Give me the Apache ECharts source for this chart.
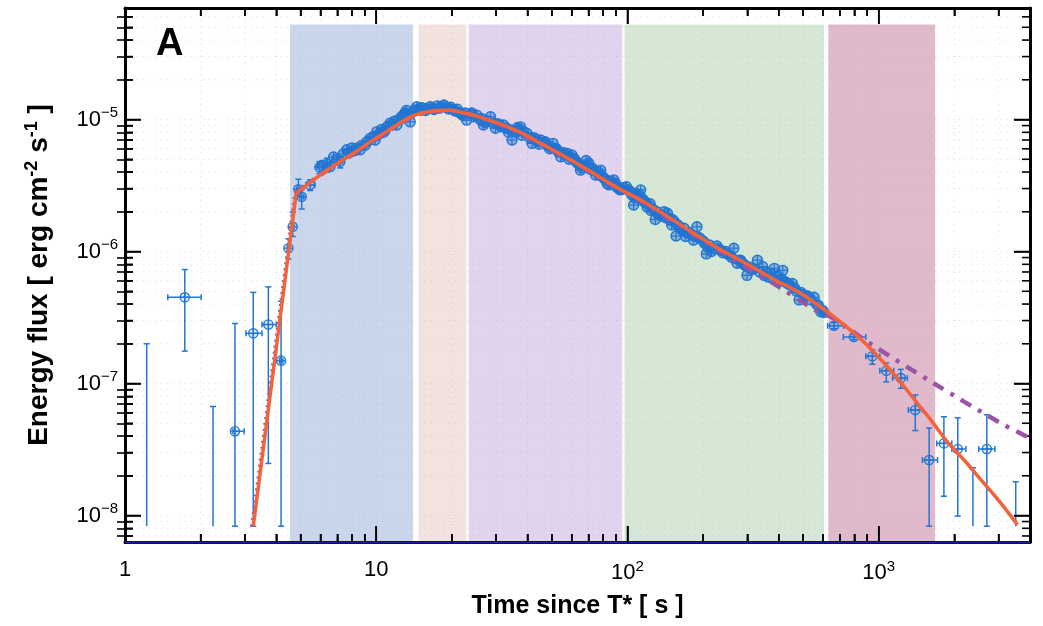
<!DOCTYPE html>
<html><head><meta charset="utf-8">
<script src="https://cdn.jsdelivr.net/npm/echarts@6/dist/echarts.min.js"></script>
<style>html,body{margin:0;padding:0;background:#fff}#c{width:1043px;height:626px}</style>
</head><body><div id="c"></div>
<script>
// ---------------- data ----------------
const X_MIN = 1, X_MAX = 4000;
const Y_MIN = 6.3e-9, Y_MAX = 7e-5;
const BAND_TOP = 5.25e-5;

const xLabelValues = [1, 10, 100, 1000];
const xLabelTexts  = ['1', '10', '10{sup|2}', '10{sup|3}'];
const yLabelValues = [1e-8, 1e-7, 1e-6, 1e-5];
const yLabelTexts  = ['10{sup|−8}', '10{sup|−7}', '10{sup|−6}', '10{sup|−5}'];

const xMajorTicks = [1, 10, 100, 1000];
const xMinorTicks = [2,3,4,5,6,7,8,9,20,30,40,50,60,70,80,90,200,300,400,500,600,700,800,900,2000,3000];
const yMajorTicks = [1e-8, 1e-7, 1e-6, 1e-5];
const yMinorTicks = [7e-9,8e-9,9e-9,2e-8,3e-8,4e-8,5e-8,6e-8,7e-8,8e-8,9e-8,2e-7,3e-7,4e-7,5e-7,6e-7,7e-7,8e-7,9e-7,
                     2e-6,3e-6,4e-6,5e-6,6e-6,7e-6,8e-6,9e-6,2e-5,3e-5,4e-5,5e-5,6e-5];

// shaded time intervals [start, end]
const bandStarts = [4.54, 14.74, 23.32, 97.3, 630];
const bandEnds   = [14.0, 22.84, 95.3, 605.5, 1676];

// points with error bars: [t, flux, tLow, tHigh, fluxLow, fluxHigh]
const errPoints = [
  [1.73, 4.5e-7, 1.48, 2.01, 1.76e-7, 7.3e-7],
  [2.74, 4.35e-8, 2.69, 2.98, 8.3e-9, 2.85e-7],
  [3.24, 2.4e-7, 3.03, 3.51, 8.3e-9, 4.9e-7],
  [3.72, 2.8e-7, 3.51, 4.0, 2.48e-8, 5.4e-7],
  [4.18, 1.49e-7, 4.12, 4.25, 8.3e-9, 4.2e-7],
  [4.47, 1.06e-6, 4.42, 4.52, 8.8e-7, 1.25e-6],
  [4.65, 1.54e-6, 4.6, 4.7, 1.3e-6, 1.99e-6],
  [4.90, 2.96e-6, 4.82, 4.98, 2.6e-6, 3.53e-6],
  [5.05, 2.6e-6, 4.97, 5.15, 2.1e-6, 2.95e-6],
  [5.46, 3.19e-6, 5.25, 5.7, 2.9e-6, 3.5e-6],
  [5.94, 4.35e-6, 5.8, 6.1, 3.9e-6, 4.8e-6],
  [6.36, 4.6e-6, 6.2, 6.5, 4.0e-6, 5.1e-6],
  [7.19, 4.79e-6, 7.05, 7.35, 4.3e-6, 5.3e-6],
  [664, 2.74e-7, 626, 726, 2.6e-7, 2.9e-7],
  [796, 2.25e-7, 723, 888, 2.15e-7, 2.35e-7],
  [943, 1.61e-7, 888, 1010, 1.4e-7, 1.8e-7],
  [1072, 1.25e-7, 1010, 1148, 1.03e-7, 1.43e-7],
  [1224, 1.1e-7, 1135, 1300, 9.2e-8, 1.28e-7],
  [1398, 6.3e-8, 1312, 1493, 4.4e-8, 8.2e-8],
  [1587, 2.63e-8, 1493, 1714, 8.3e-9, 4.6e-8],
  [1817, 3.52e-8, 1702, 1954, 1.4e-8, 5.6e-8],
  [2063, 3.19e-8, 1954, 2222, 9.9e-9, 5.5e-8],
  [2693, 3.19e-8, 2502, 2899, 8.3e-9, 5.8e-8]
];

// flux intervals without a measured point: [t, fluxLow, fluxHigh]
const limitBars = [
  [1.22, 8.3e-9, 2.0e-7],
  [2.24, 8.3e-9, 6.7e-8],
  [2371, 8.3e-9, 2.3e-8],
  [3510, 8.3e-9, 1.8e-8]
];

// dense light-curve points: [t, flux]
const densePoints = [
  [6.1,4.5e-6],[6.55,4.4e-6],[6.76,5.2e-6],[6.95,5.0e-6],[7.4,5.5e-6],[7.64,5.9e-6],[7.8,5.6e-6],[8.0,6.1e-6],
  [8.2,5.8e-6],[8.4,6.1e-6],[8.63,5.9e-6],[8.8,6.4e-6],[9.04,6.4e-6],[9.2,6.8e-6],[9.46,7.2e-6],[9.7,7.4e-6],
  [9.9,7.0e-6],[10.06,8.1e-6],[10.3,7.8e-6],[10.5,8.4e-6],[10.7,8.0e-6],[10.86,8.3e-6],[11.1,8.9e-6],[11.37,9.4e-6],
  [11.6,9.2e-6],[11.8,9.7e-6],[12.08,9.1e-6],[12.3,1.0e-5],[12.6,1.05e-5],[12.83,1.08e-5],[13.0,1.12e-5],[13.2,1.17e-5],
  [13.45,1.1e-5],[13.65,9.6e-6],[13.9,1.13e-5],
  [14.2,1.18e-5],[14.5,1.25e-5],[14.8,1.2e-5],[15.1,1.23e-5],[15.4,1.22e-5],[15.7,1.17e-5],[16.0,1.2e-5],[16.4,1.25e-5],
  [16.7,1.22e-5],[17.0,1.19e-5],[17.5,1.27e-5],[17.8,1.22e-5],[18.2,1.25e-5],[18.6,1.29e-5],[19.0,1.24e-5],[19.4,1.2e-5],
  [19.8,1.24e-5],[20.2,1.19e-5],[20.6,1.16e-5],[21.0,1.2e-5],[21.4,1.13e-5],[21.8,1.1e-5],[22.2,1.07e-5],[22.6,1.12e-5],
  [22.9,9.9e-6],[23.8,1.1e-5],[24.0,1.12e-5],[24.4,1.05e-5],[25.1,1.08e-5],[25.9,1.0e-5],[26.2,1.02e-5],[26.7,9.1e-6],
  [27.1,9.5e-6],[27.5,9.8e-6],[28.5,1.05e-5],[29.2,9.4e-6],[29.8,8.6e-6],[30.5,9.3e-6],[31.0,9.0e-6],[31.5,8.8e-6],
  [32.1,9.1e-6],[33.0,8.6e-6],[33.6,8.0e-6],[34.2,8.33e-6],[34.7,7.0e-6],[35.8,8.2e-6],[36.0,8.0e-6],[36.5,8.7e-6],
  [37.0,8.5e-6],[37.5,8.8e-6],[38.0,7.6e-6],[38.6,8.1e-6],[39.8,7.86e-6],[40.7,7.3e-6],[41.7,6.6e-6],[42.4,7.3e-6],
  [43.0,7.1e-6],[44.0,6.8e-6],[44.5,6.5e-6],[45.1,7.0e-6],[46.5,6.7e-6],[47.0,6.8e-6],[47.9,6.4e-6],[49.0,6.0e-6],
  [49.5,6.2e-6],[50.5,6.6e-6],[51.8,6.05e-6],[52.5,5.9e-6],[53.0,5.7e-6],[54.2,5.22e-6],[55.8,5.6e-6],[56.5,5.4e-6],
  [57.6,5.54e-6],[58.5,5.0e-6],[59.2,5.2e-6],[60.0,5.4e-6],[61.2,5.08e-6],[62.0,4.9e-6],[63.0,4.7e-6],[64.0,4.6e-6],
  [65.0,4.14e-6],[66.0,4.3e-6],[67.0,4.5e-6],[68.5,4.9e-6],[69.0,4.4e-6],[70.1,4.66e-6],[71.0,4.2e-6],[72.3,4.3e-6],
  [73.5,4.1e-6],[74.6,3.8e-6],[76.4,4.0e-6],[77.0,3.8e-6],[78.2,4.14e-6],[79.5,3.7e-6],[80.5,3.6e-6],[82.0,3.5e-6],
  [83.0,3.28e-6],[84.5,3.2e-6],[85.5,3.4e-6],[87.0,3.3e-6],[88.1,3.49e-6],[89.5,3.3e-6],[90.5,3.1e-6],[92.0,3.0e-6],
  [93.6,2.93e-6],[95.0,2.95e-6],[96.0,3.05e-6],
  [99,3.1e-6],[101,2.93e-6],[102.5,2.85e-6],[104,2.7e-6],[105.8,2.25e-6],[107,2.55e-6],[108,2.75e-6],[110,2.6e-6],
  [111,2.7e-6],[112.8,2.93e-6],[114,2.45e-6],[115,2.5e-6],[117,2.4e-6],[119.5,2.18e-6],[121,2.25e-6],[123,2.3e-6],
  [124,2.05e-6],[126,2.1e-6],[129,1.75e-6],[131,2.0e-6],[133,1.9e-6],[135,1.9e-6],[137,1.85e-6],[140,2.0e-6],
  [142,1.8e-6],[144.2,1.95e-6],[147,1.75e-6],[150,1.59e-6],[151,1.75e-6],[153,1.7e-6],[156,1.31e-6],[158,1.6e-6],
  [160,1.55e-6],[162,1.5e-6],[165,1.45e-6],[168,1.5e-6],[170,1.3e-6],[173,1.38e-6],[175,1.4e-6],[179,1.35e-6],
  [183,1.22e-6],[186,1.3e-6],[189,1.54e-6],[192,1.28e-6],[195,1.25e-6],[200,1.2e-6],[203,1.15e-6],[206,9.6e-7],
  [209,1.08e-6],[212,1.12e-6],[216,1.0e-6],[220,1.05e-6],[227,1.1e-6],[231,1.05e-6],[235,1.02e-6],[240,9.8e-7],
  [245,1.0e-6],[250,9.6e-7],[255,9.4e-7],[260,9.0e-7],[265,1.06e-6],[273,8.15e-7],[278,8.6e-7],[282,8.6e-7],
  [286,8.2e-7],[290,8.0e-7],[295,7.8e-7],[299,6.6e-7],[308,7.6e-7],[313,7.3e-7],[318,7.4e-7],[329,8.6e-7],
  [336,7.0e-7],[345,7.7e-7],[350,6.6e-7],[358,7.0e-7],[364,6.4e-7],[370,6.8e-7],[377,6.3e-7],[384,7.46e-7],
  [392,6.6e-7],[403,6.05e-7],[410,6.2e-7],[415,7.2e-7],[425,5.9e-7],[433,5.73e-7],[442,5.6e-7],[453,5.73e-7],
  [462,5.3e-7],[470,5.0e-7],[482,4.3e-7],[491,4.9e-7],[500,4.7e-7],[510,4.6e-7],[521,4.6e-7],[537,4.3e-7],
  [553,4.5e-7],[565,4.0e-7],[575,3.9e-7],[588,3.5e-7],[597,3.6e-7],[605,3.45e-7]
];

// model curves: [t, flux]
const fitRise = [[3.24, 8.3e-9], [4.8, 2.75e-6]];
const fitMain = [[4.8,2.75e-6],[5.3,3.2e-6],[5.98,3.8e-6],[7.0,4.65e-6],[8.12,5.55e-6],[9.5,6.8e-6],[11.0,8.1e-6],
  [12.5,9.5e-6],[14.07,1.07e-5],[15.5,1.13e-5],[17.5,1.17e-5],[19.5,1.175e-5],[21.5,1.14e-5],[24.4,1.08e-5],
  [28.5,9.8e-6],[33.3,8.8e-6],[39,7.7e-6],[45.1,6.6e-6],[52,5.7e-6],[61.2,4.79e-6],[71,4.05e-6],[83,3.38e-6],
  [97,2.85e-6],[112.8,2.46e-6],[150,1.76e-6],[200,1.24e-6],[235,1.03e-6],[300,8.0e-7],[380,6.2e-7],[489,4.82e-7],
  [570,3.95e-7],[664,3.2e-7],[770,2.55e-7],[900,1.95e-7],[1050,1.43e-7],[1224,1.02e-7],[1383,7.6e-8],[1600,5.4e-8],
  [1878,3.6e-8],[2200,2.6e-8],[2548,1.87e-8],[3000,1.3e-8],[3570,8.5e-9]];
const altRise = [[3.2, 8.3e-9], [4.75, 2.75e-6]];
const altMain = [[4.75,2.75e-6],[5.98,3.8e-6],[8.12,5.5e-6],[11,8.0e-6],[14.07,1.06e-5],[17.5,1.16e-5],[20.5,1.16e-5],
  [24.4,1.07e-5],[33.3,8.7e-6],[45.1,6.5e-6],[61.2,4.75e-6],[83,3.35e-6],[112.8,2.42e-6],[235,1.0e-6],[407,5.3e-7],
  [553,3.65e-7],[664,3.1e-7],[901,2.07e-7],[1661,1.0e-7],[3064,5.0e-8],[4000,3.86e-8]];

// ---------------- styles ----------------
const FONT = '"Liberation Sans", Arial, Helvetica, sans-serif';
const bandColors = ['#c9d6ec', '#f2e3df', '#e2d3ef', '#d7e7d5', '#e0bacb'];
const PT_COLOR = '#2276d4';
const FIT_COLOR = '#f4623a';
const ALT_COLOR = '#9b55a6';
const MAJOR_LEN = 16, MINOR_LEN = 8;

function findLabel(vals, texts, v) {
  const i = vals.findIndex(a => Math.abs(Math.log10(a) - Math.log10(v)) < 1e-6);
  return i < 0 ? '' : texts[i];
}

const tickData = [];
xMajorTicks.forEach(v => tickData.push([v, Y_MIN, 0]));
xMinorTicks.forEach(v => tickData.push([v, Y_MIN, 1]));
yMajorTicks.forEach(v => tickData.push([X_MIN, v, 2]));
yMinorTicks.forEach(v => tickData.push([X_MIN, v, 3]));

function lineEl(x1, y1, x2, y2, stroke, w, dash) {
  const style = { stroke: stroke, lineWidth: w, fill: null };
  if (dash) style.lineDash = dash;
  return { type: 'line', shape: { x1: x1, y1: y1, x2: x2, y2: y2 }, style: style };
}

function renderGridLine(params, api) {
  const cs = params.coordSys;
  const kind = api.value(2);
  if (kind < 2) {
    const x = api.coord([api.value(0), Y_MIN])[0];
    return lineEl(x, cs.y, x, cs.y + cs.height, 'rgba(185,185,185,0.5)', 1, [1, 5]);
  }
  const y = api.coord([X_MIN, api.value(1)])[1];
  return lineEl(cs.x, y, cs.x + cs.width, y, 'rgba(185,185,185,0.5)', 1, [1, 5]);
}

// ticks drawn as thin filled rectangles
function renderTick(params, api) {
  const cs = params.coordSys;
  const kind = api.value(2);
  const L = (kind === 0 || kind === 2) ? MAJOR_LEN : MINOR_LEN;
  const w = 1.6;
  if (kind < 2) {
    const x = api.coord([api.value(0), Y_MIN])[0];
    const y0 = cs.y, y1 = cs.y + cs.height;
    return { type: 'group', children: [
      { type: 'rect', shape: { x: x - w / 2, y: y1 - L, width: w, height: L }, style: { fill: '#000' } },
      { type: 'rect', shape: { x: x - w / 2, y: y0, width: w, height: L }, style: { fill: '#000' } }
    ]};
  }
  const y = api.coord([X_MIN, api.value(1)])[1];
  const x0 = cs.x, x1 = cs.x + cs.width;
  return { type: 'group', children: [
    { type: 'rect', shape: { x: x0, y: y - w / 2, width: L, height: w }, style: { fill: '#000' } },
    { type: 'rect', shape: { x: x1 - L, y: y - w / 2, width: L, height: w }, style: { fill: '#000' } }
  ]};
}

function renderBaseLine(params, api) {
  const cs = params.coordSys;
  const yb = cs.y + cs.height + 0.5;
  return lineEl(cs.x, yb, cs.x + cs.width, yb, '#1c1f9a', 2);
}

function renderBand(params, api) {
  const p0 = api.coord([api.value(0), api.value(2)]);
  const p1 = api.coord([api.value(1), Y_MIN]);
  return { type: 'rect', shape: { x: p0[0], y: p0[1], width: p1[0] - p0[0], height: p1[1] - p0[1] },
           style: { fill: bandColors[params.dataIndex] } };
}

function marker(c, r, fill) {
  return [
    { type: 'circle', shape: { cx: c[0], cy: c[1], r: r }, style: { stroke: PT_COLOR, lineWidth: 1.4, fill: fill } },
    lineEl(c[0] - r, c[1], c[0] + r, c[1], PT_COLOR, 1.2),
    lineEl(c[0], c[1] - r, c[0], c[1] + r, PT_COLOR, 1.2)
  ];
}

function renderErr(params, api) {
  const t = api.value(0), f = api.value(1);
  const c = api.coord([t, f]);
  const l = api.coord([api.value(2), f]), r = api.coord([api.value(3), f]);
  const lo = api.coord([t, api.value(4)]), hi = api.coord([t, api.value(5)]);
  const cap = 3;
  const ch = [
    lineEl(c[0], lo[1], c[0], hi[1], PT_COLOR, 1.5),
    lineEl(c[0] - cap, lo[1], c[0] + cap, lo[1], PT_COLOR, 1.5),
    lineEl(c[0] - cap, hi[1], c[0] + cap, hi[1], PT_COLOR, 1.5),
    lineEl(l[0], c[1], r[0], c[1], PT_COLOR, 1.5),
    lineEl(l[0], c[1] - cap, l[0], c[1] + cap, PT_COLOR, 1.5),
    lineEl(r[0], c[1] - cap, r[0], c[1] + cap, PT_COLOR, 1.5)
  ].concat(marker(c, 4.6, 'rgba(34,118,212,0.12)'));
  return { type: 'group', children: ch };
}

function renderLimit(params, api) {
  const t = api.value(0);
  const lo = api.coord([t, api.value(1)]), hi = api.coord([t, api.value(2)]);
  return { type: 'group', children: [
    lineEl(lo[0], lo[1], hi[0], hi[1], PT_COLOR, 1.5),
    lineEl(hi[0] - 3, hi[1], hi[0] + 3, hi[1], PT_COLOR, 1.5)
  ]};
}

function renderDense(params, api) {
  const c = api.coord([api.value(0), api.value(1)]);
  return { type: 'group', children: marker(c, 5, 'rgba(34,112,200,0.42)') };
}

const supRich = { sup: { fontSize: 15, fontFamily: FONT, color: '#000', padding: [0, 0, 13, 0] } };
const frameLine = { show: true, onZero: false, lineStyle: { color: '#000', width: 3 } };
const majorTick = { show: true, inside: true, length: MAJOR_LEN, lineStyle: { color: '#000', width: 1.6 } };
function minorAxis(pos, lo, hi, vals) {
  return { type: 'value', min: Math.log10(lo), max: Math.log10(hi), position: pos, z: 6,
           axisLine: { show: false }, axisLabel: { show: false }, splitLine: { show: false },
           axisTick: { show: true, inside: true, length: MINOR_LEN, customValues: vals.map(Math.log10),
                       lineStyle: { color: '#000', width: 1.6 } } };
}

const option = {
  backgroundColor: '#fff',
  animation: false,
  grid: { left: 125, right: 13, top: 8, bottom: 84, containLabel: false, outerBoundsMode: 'none' },
  xAxis: [
    { type: 'log', logBase: 10, min: X_MIN, max: X_MAX, position: 'bottom', z: 6,
      axisLine: frameLine, axisTick: majorTick, minorTick: { show: false }, splitLine: { show: false },
      axisLabel: { formatter: v => findLabel(xLabelValues, xLabelTexts, v), fontSize: 22, color: '#000',
                   fontFamily: FONT, margin: 17, rich: supRich, showMinLabel: true, showMaxLabel: true },
      name: 'Time since T* [ s ]', nameLocation: 'middle', nameGap: 52,
      nameTextStyle: { fontSize: 25, fontWeight: 'bold', color: '#000', fontFamily: FONT } },
    { type: 'log', logBase: 10, min: X_MIN, max: X_MAX, position: 'top', z: 6,
      axisLine: frameLine, axisTick: majorTick, axisLabel: { show: false }, splitLine: { show: false } },
    minorAxis('bottom', X_MIN, X_MAX, xMinorTicks),
    minorAxis('top', X_MIN, X_MAX, xMinorTicks)
  ],
  yAxis: [
    { type: 'log', logBase: 10, min: Y_MIN, max: Y_MAX, position: 'left', z: 6,
      axisLine: frameLine, axisTick: majorTick, minorTick: { show: false }, splitLine: { show: false },
      axisLabel: { formatter: v => findLabel(yLabelValues, yLabelTexts, v), fontSize: 22, color: '#000',
                   fontFamily: FONT, margin: 7, rich: supRich },
      name: 'Energy flux [ erg cm{sup|-2} s{sup|-1} ]', nameLocation: 'middle', nameGap: 70, nameRotate: 90,
      nameTextStyle: { fontSize: 28, fontWeight: 'bold', color: '#000', fontFamily: FONT,
        rich: { sup: { fontSize: 18, fontWeight: 'bold', color: '#000', fontFamily: FONT, padding: [0, 0, 14, 0] } } } },
    { type: 'log', logBase: 10, min: Y_MIN, max: Y_MAX, position: 'right', z: 6,
      axisLine: frameLine, axisTick: majorTick, axisLabel: { show: false }, splitLine: { show: false } },
    minorAxis('left', Y_MIN, Y_MAX, yMinorTicks),
    minorAxis('right', Y_MIN, Y_MAX, yMinorTicks)
  ],
  graphic: [
    { type: 'text', x: 156, y: 45, z: 100,
      style: { text: 'A', font: 'bold 38px ' + FONT, fill: '#000', verticalAlign: 'middle' } }
  ],
  series: [
    { type: 'custom', name: 'bands', renderItem: renderBand, clip: true,
      encode: { x: [0, 1], y: 2 },
      data: bandStarts.map((s, i) => [s, bandEnds[i], BAND_TOP]) },
    { type: 'custom', name: 'gridlines', renderItem: renderGridLine, clip: false,
      encode: { x: 0, y: 1 }, data: tickData },
    { type: 'custom', name: 'baseline', renderItem: renderBaseLine, clip: false, z: 8,
      encode: { x: 0, y: 1 }, data: [[X_MIN, Y_MIN]] },
    { type: 'custom', name: 'ticks', renderItem: renderTick, clip: false,
      encode: { x: 0, y: 1 }, data: tickData.map(d => d.slice()) },
    { type: 'custom', name: 'limits', renderItem: renderLimit, clip: true,
      encode: { x: 0, y: [1, 2] }, data: limitBars },
    { type: 'custom', name: 'dense', renderItem: renderDense, clip: true,
      encode: { x: 0, y: 1 }, data: densePoints },
    { type: 'custom', name: 'errors', renderItem: renderErr, clip: true,
      encode: { x: [0, 2, 3], y: [1, 4, 5] }, data: errPoints },
    { type: 'line', name: 'altRise', data: altRise, showSymbol: false, symbol: 'none', clip: true,
      lineStyle: { color: ALT_COLOR, width: 3.5, type: [2, 4] } },
    { type: 'line', name: 'altMain', data: altMain, showSymbol: false, symbol: 'none', smooth: 0.3, clip: true,
      lineStyle: { color: ALT_COLOR, width: 4.5, type: [12, 8, 4, 8] } },
    { type: 'line', name: 'fitRise', data: fitRise, showSymbol: false, symbol: 'none', clip: true,
      lineStyle: { color: FIT_COLOR, width: 3.5 } },
    { type: 'line', name: 'fitMain', data: fitMain, showSymbol: false, symbol: 'none', smooth: 0.3, clip: true,
      lineStyle: { color: FIT_COLOR, width: 3.5 } }
  ]
};

const chart = echarts.init(document.getElementById('c'), null, { renderer: 'canvas' });
chart.setOption(option);
</script>
</body></html>
